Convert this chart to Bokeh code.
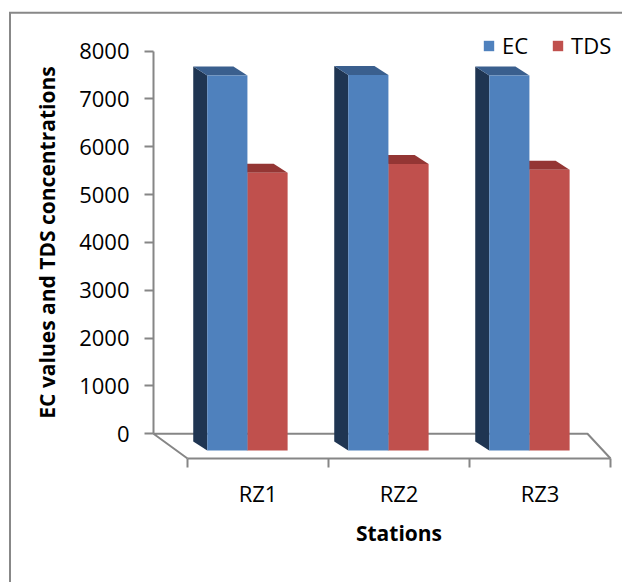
from bokeh.plotting import figure
from bokeh.models import (LinearAxis, FixedTicker, Range1d, Legend, LegendItem,
                          ColumnDataSource)
from bokeh.embed import file_html
from bokeh.resources import INLINE

# ---- data -------------------------------------------------------------
stations = ["RZ1", "RZ2", "RZ3"]
ec_values = [7490, 7500, 7490]
tds_values = [5460, 5640, 5520]
value_ticks = [0, 1000, 2000, 3000, 4000, 5000, 6000, 7000, 8000]

# ---- canvas / projection helpers ---------------------------------------
W, H = 622, 582
CAT_PX = 141.0          # width of one station slot on the floor front edge
FLOOR_FRONT_LEFT = 187.0
UNIT_PX = 47.83 / 1000  # pixels per concentration unit
ZERO_PX = 433.3         # zero level on the back wall


def xd(px):
    return (px - FLOOR_FRONT_LEFT) / CAT_PX


def yd(py):
    return (ZERO_PX - py) / UNIT_PX


FONT = "Open Sans"
GREY = "#868686"
LABEL_SIZE = "22px"
TITLE_SIZE = "21px"

p = figure(width=W, height=H,
           x_range=Range1d(xd(0), xd(W)), y_range=Range1d(yd(H), yd(0)),
           x_axis_type=None, y_axis_type=None,
           toolbar_location=None, output_backend="svg",
           min_border=0, outline_line_color=None,
           background_fill_color="white", border_fill_color="white")

# chart-area frame (left and top edges)
p.line(x=[xd(9.5), xd(9.5), xd(W + 5)], y=[yd(H + 5), yd(12.2), yd(12.2)],
       line_color="#888888", line_width=2, line_join="miter")

# ---- 3-D floor --------------------------------------------------------
floor_front = yd(458)
back_left, back_right = xd(153), xd(587)
p.line(x=[0, back_left, back_right, len(stations)],
       y=[floor_front, 0, 0, floor_front],
       line_color=GREY, line_width=2)

# ---- 3-D columns ------------------------------------------------------
BAR_W = 0.285
GROUP_SHIFT = 0.425          # group centre inside each slot (depth pushes bars left)
DX = -14 / CAT_PX            # depth offset of the back faces
DY = 9 / UNIT_PX
BASE = yd(450)               # bottom of the front faces


def prism(lefts, tops):
    side_x, side_y, top_x, top_y = [], [], [], []
    for l, t in zip(lefts, tops):
        r = l + BAR_W
        side_x.append([l, l + DX, l + DX, l])
        side_y.append([BASE, BASE + DY, t + DY, t])
        top_x.append([l, r, r + DX, l + DX])
        top_y.append([t, t, t + DY, t + DY])
    return side_x, side_y, top_x, top_y


slots = list(range(len(stations)))
ec_left = [k + GROUP_SHIFT - BAR_W for k in slots]
tds_left = [k + GROUP_SHIFT for k in slots]

series = [
    ("TDS", tds_left, tds_values, "#C0504D", "#943634", "#632523"),
    ("EC", ec_left, ec_values, "#4F81BD", "#3A5F8E", "#1F3552"),
]
fronts = {}
for name, lefts, vals, c_front, c_top, c_side in series:
    sx, sy, tx, ty = prism(lefts, vals)
    p.patches(sx, sy, fill_color=c_side, line_color=None)
    p.patches(tx, ty, fill_color=c_top, line_color=None)
    src = ColumnDataSource(dict(left=lefts, right=[l + BAR_W for l in lefts],
                                top=vals, bottom=[BASE] * len(vals)))
    fronts[name] = p.quad(left="left", right="right", top="top", bottom="bottom",
                          source=src, fill_color=c_front, line_color=None)

# ---- axes ---------------------------------------------------------------
yax = LinearAxis(fixed_location=xd(153), bounds=(0, 8000),
                 ticker=FixedTicker(ticks=value_ticks),
                 axis_line_color=GREY, axis_line_width=2,
                 major_tick_line_color=GREY, major_tick_line_width=2,
                 major_tick_out=9, major_tick_in=0,
                 minor_tick_line_color=None,
                 major_label_standoff=15,
                 major_label_text_font=FONT, major_label_text_font_size=LABEL_SIZE,
                 major_label_text_color="black",
                 axis_label="EC values and TDS concentrations",
                 axis_label_text_font=FONT, axis_label_text_font_size=TITLE_SIZE,
                 axis_label_text_font_style="bold", axis_label_text_color="black",
                 axis_label_standoff=15)
p.add_layout(yax, "left")

xax = LinearAxis(fixed_location=floor_front, bounds=(0, len(stations)),
                 ticker=FixedTicker(ticks=[k + 0.5 for k in slots],
                                    minor_ticks=list(range(len(stations) + 1))),
                 major_label_overrides={k + 0.5: s for k, s in zip(slots, stations)},
                 axis_line_color=GREY, axis_line_width=2,
                 major_tick_line_color=None, major_tick_out=0, major_tick_in=0,
                 minor_tick_line_color=GREY, minor_tick_line_width=2,
                 minor_tick_out=9, minor_tick_in=0,
                 major_label_standoff=10,
                 major_label_text_font=FONT, major_label_text_font_size=LABEL_SIZE,
                 major_label_text_color="black",
                 axis_label="Stations",
                 axis_label_text_font=FONT, axis_label_text_font_size=TITLE_SIZE,
                 axis_label_text_font_style="bold", axis_label_text_color="black",
                 axis_label_standoff=8)
p.add_layout(xax, "below")

# ---- legend -------------------------------------------------------------
legend = Legend(items=[LegendItem(label="EC", renderers=[fronts["EC"]]),
                       LegendItem(label="TDS", renderers=[fronts["TDS"]])],
                orientation="horizontal", location=(482, 522),
                glyph_width=13, glyph_height=13, label_standoff=7, spacing=23,
                padding=0, margin=0, border_line_color=None,
                background_fill_alpha=0,
                label_text_font=FONT, label_text_font_size=LABEL_SIZE,
                label_text_color="black")
p.add_layout(legend)

open("out.html", "w").write(file_html(p, INLINE))
